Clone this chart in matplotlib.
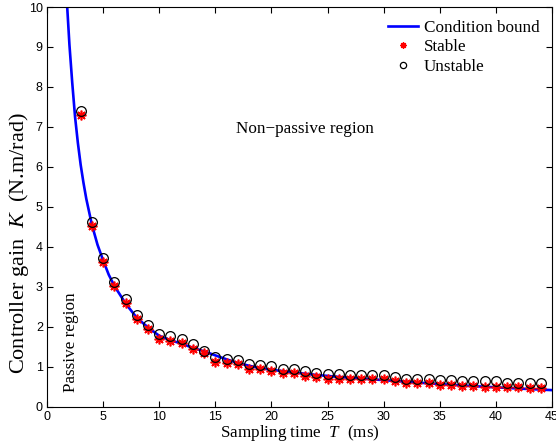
import matplotlib
matplotlib.use("Agg")
import matplotlib.pyplot as plt
from matplotlib.lines import Line2D

plt.rcParams["mathtext.fontset"] = "custom"
plt.rcParams["mathtext.it"] = "Liberation Serif:italic"
plt.rcParams["mathtext.rm"] = "Liberation Serif"
plt.rcParams["mathtext.bf"] = "Liberation Serif:bold"

# Condition bound
bound_T = [1.8, 2.0, 2.25, 2.5, 2.75, 3.0, 3.25, 3.5, 4.0, 4.5, 5.0, 5.5, 6.0, 7.0, 8.0, 9.0,
           10.0, 11.0, 12.0, 13.0, 14.0, 15.0, 16.0, 17.0, 18.0, 19.0, 20.0, 22.0, 24.0,
           26.0, 28.0, 30.0, 32.0, 35.0, 38.0, 40.0, 42.0, 45.0]
bound_K = [10.0, 9.05, 8.1, 7.25, 6.6, 6.05, 5.6, 5.2, 4.55, 4.05, 3.66, 3.3, 3.02, 2.58, 2.22, 1.98,
           1.77, 1.66, 1.57, 1.47, 1.38, 1.28, 1.18, 1.09, 1.02, 0.96, 0.92, 0.85, 0.79,
           0.74, 0.70, 0.66, 0.62, 0.56, 0.51, 0.48, 0.45, 0.41]

T_points = list(range(3, 45))
stable_K = [7.29, 4.51, 3.62, 3.02, 2.60, 2.20, 1.95, 1.70, 1.64, 1.59, 1.45, 1.33, 1.12, 1.09,
            1.06, 0.95, 0.93, 0.89, 0.85, 0.83, 0.76, 0.74, 0.69, 0.70, 0.70, 0.69, 0.69, 0.70,
            0.64, 0.59, 0.59, 0.58, 0.54, 0.54, 0.52, 0.52, 0.49, 0.49, 0.48, 0.48, 0.47, 0.46]
unstable_K = [7.40, 4.62, 3.72, 3.12, 2.70, 2.30, 2.05, 1.81, 1.76, 1.70, 1.56, 1.39, 1.23, 1.18,
              1.16, 1.07, 1.03, 1.02, 0.95, 0.93, 0.88, 0.85, 0.81, 0.81, 0.79, 0.79, 0.79, 0.79,
              0.75, 0.69, 0.69, 0.68, 0.66, 0.66, 0.65, 0.65, 0.63, 0.63, 0.59, 0.59, 0.58, 0.58]

x_ticks = [0, 5, 10, 15, 20, 25, 30, 35, 40, 45]
y_ticks = list(range(0, 11))

serif = ["Liberation Serif", "DejaVu Serif"]
sans = ["Liberation Sans", "DejaVu Sans"]

fig = plt.figure(figsize=(5.56, 4.46), dpi=100)
ax = fig.add_axes([47/556, 1 - 406.5/446, (552 - 47)/556, (406.5 - 7)/446])

ax.plot(bound_T, bound_K, color=(0, 0, 1), lw=1.9, label="Condition bound", zorder=2)
ax.plot(T_points, stable_K, linestyle="none", marker=(8, 2, 0), ms=7, color="red",
        mec="red", mew=1.2, label="Stable", zorder=3)
ax.plot(T_points, unstable_K, linestyle="none", marker="o", ms=7, mfc="none",
        mec="black", mew=0.9, label="Unstable", zorder=4)

ax.set_xlim(0, 45)
ax.set_ylim(0, 10)
ax.set_xticks(x_ticks)
ax.set_yticks(y_ticks)
ax.tick_params(direction="in", top=True, right=True, length=4, width=0.8, labelsize=9, pad=3)
for lbl in ax.get_xticklabels() + ax.get_yticklabels():
    lbl.set_family(sans)
for s in ax.spines.values():
    s.set_linewidth(0.8)

ax.set_xlabel(r"Sampling time  $T$  (ms)", family=serif, fontsize=12.3, labelpad=0)
ax.text(-0.0564, 0.41, r"Controller gain  $K$  (N.m/rad)", transform=ax.transAxes,
        family=serif, fontsize=16, rotation=90, ha="center", va="center", clip_on=False)

ax.text(0.511, 0.695, "Non\u2212passive region", transform=ax.transAxes, family=serif,
        fontsize=12.3, ha="center", va="center")
ax.text(0.048, 0.16, "Passive region", transform=ax.transAxes, family=serif,
        fontsize=12.3, ha="center", va="center", rotation=90)

handles = [Line2D([], [], color=(0, 0, 1), lw=1.9),
           Line2D([], [], linestyle="none", marker=(8, 2, 0), ms=4.5, color="red", mew=1.0),
           Line2D([], [], linestyle="none", marker="o", ms=4.5, mfc="none", mec="black", mew=0.9)]
ax.legend(handles, ["Condition bound", "Stable", "Unstable"], loc="upper right",
          frameon=False, prop={"family": serif, "size": 12.3}, handlelength=1.75,
          handletextpad=0.35, labelspacing=0.2, borderaxespad=0.35)

fig.savefig("out.png", dpi=100)
